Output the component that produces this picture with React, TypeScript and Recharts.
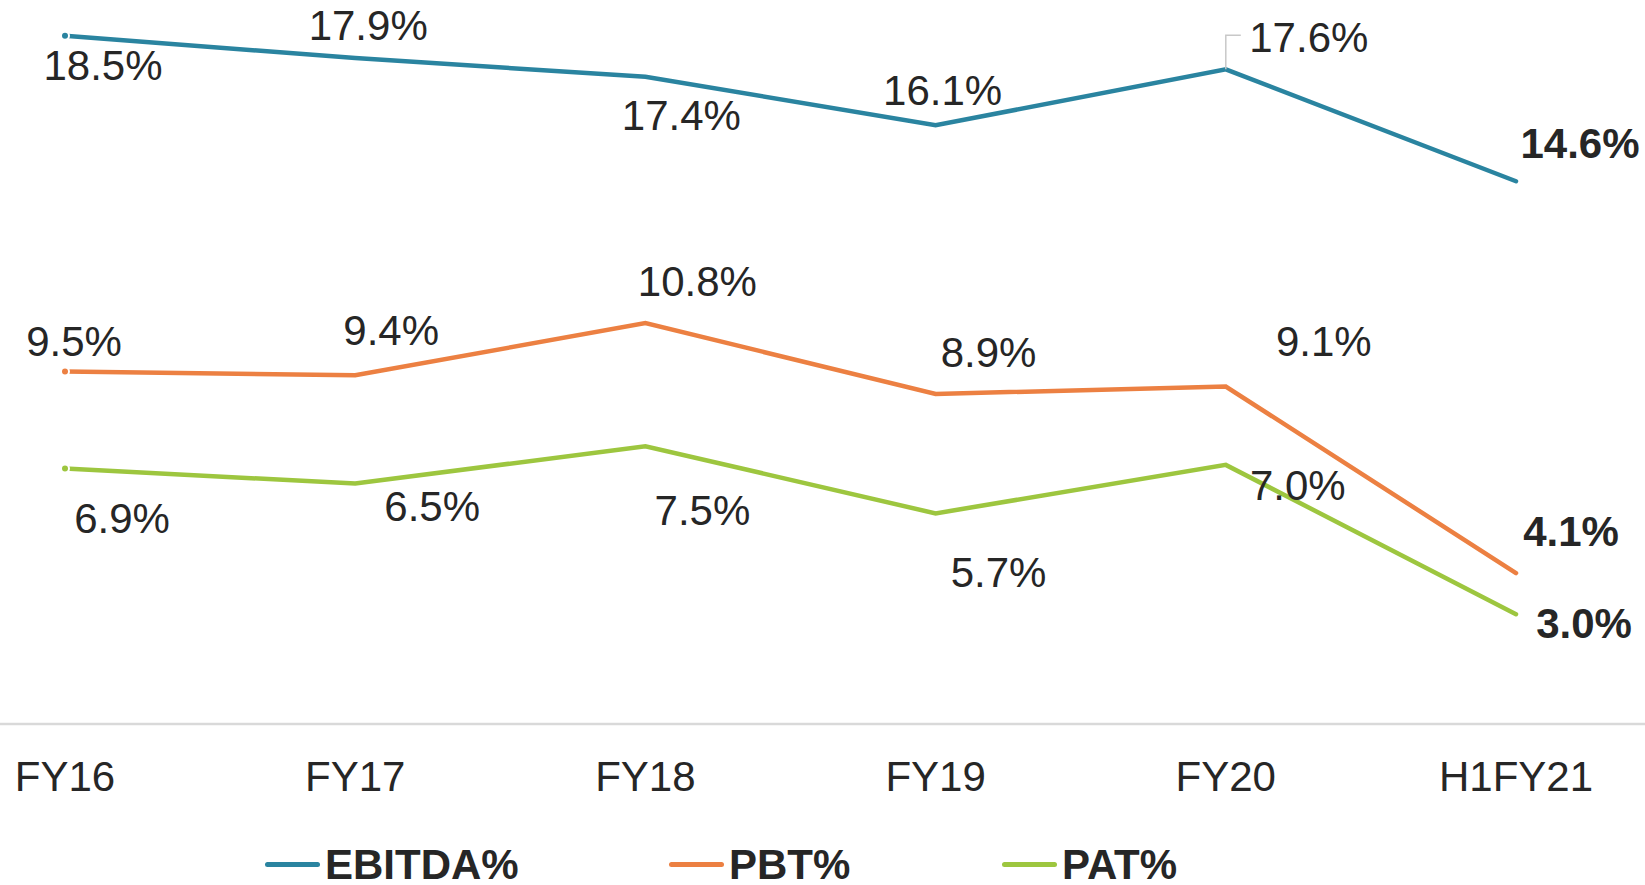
import React from 'react';
import { LineChart, Line, XAxis, YAxis, Legend, LabelList } from 'recharts';

const categories = ['FY16', 'FY17', 'FY18', 'FY19', 'FY20', 'H1FY21'];
const ebitda = [18.5, 17.9, 17.4, 16.1, 17.6, 14.6];
const pbt = [9.5, 9.4, 10.8, 8.9, 9.1, 4.1];
const pat = [6.9, 6.5, 7.5, 5.7, 7.0, 3.0];

const data = categories.map((name, i) => ({ name, EBITDA: ebitda[i], PBT: pbt[i], PAT: pat[i] }));

// label offsets from the point (centre of the text)
const ebitdaOffsets = [[38, 31], [13, -31], [36, 40], [7, -33], [83, -30], [64, -36]];
const pbtOffsets = [[9, -29], [36, -43], [52, -40], [53, -40], [98, -44], [55, -40]];
const patOffsets = [[57, 51], [77, 24], [57, 66], [63, 61], [72, 22], [68, 11]];

const FONT = '"Liberation Sans", Arial, sans-serif';
const TEXT = '#262626';
const FS = 42;

const COLORS = { EBITDA: '#2a84a0', PBT: '#ec8042', PAT: '#9dc63f' };

const makeLabel = (offsets: number[][], leaderAt?: number) => (props: any) => {
  const { x, y, value, index } = props;
  const [dx, dy] = offsets[index];
  const last = index === categories.length - 1;
  return (
    <g>
      {leaderAt === index && (
        <path d={`M${x},${y} L${x},${y + dy - 4} L${x + 15},${y + dy - 4}`} fill="none" stroke="#c8c8c8" strokeWidth={1.5} />
      )}
      <text x={x + dx} y={y + dy + 13} textAnchor="middle" fontFamily={FONT} fontSize={FS}
        fontWeight={last ? 'bold' : 'normal'} fill={TEXT}>
        {`${Number(value).toFixed(1)}%`}
      </text>
    </g>
  );
};

const CustomTick = (props: any) => {
  const { x, y, payload } = props;
  return (
    <text x={x} y={y + 67} textAnchor="middle" fontFamily={FONT} fontSize={FS} fill={TEXT}>
      {payload.value}
    </text>
  );
};

const legendItems = [
  { key: 'EBITDA', label: 'EBITDA%', width: 404 },
  { key: 'PBT', label: 'PBT%', width: 333 },
  { key: 'PAT', label: 'PAT%', width: 300 },
];

const CustomLegend = () => (
  <div style={{ display: 'flex', paddingLeft: 265, paddingTop: 30, height: 71, boxSizing: 'border-box' }}>
    {legendItems.map(it => (
      <div key={it.key} style={{ width: it.width, display: 'flex', alignItems: 'center' }}>
        <div style={{ width: 55, height: 5, borderRadius: 3, background: (COLORS as any)[it.key], marginRight: 5 }} />
        <span style={{ fontFamily: FONT, fontSize: FS, fontWeight: 'bold', color: TEXT, lineHeight: '42px' }}>{it.label}</span>
      </div>
    ))}
  </div>
);

export default function App() {
  return (
    <div style={{ position: 'absolute', left: 0, top: 0, width: 1645, height: 885, background: '#fff' }}>
      <LineChart width={1645} height={885} data={data} margin={{ top: 0, right: 0, left: 0, bottom: 0 }}>
        <XAxis dataKey="name" height={90} padding={{ left: 65, right: 129 }} tickLine={false} tickSize={0}
          tickMargin={0} axisLine={{ stroke: '#d9d9d9', strokeWidth: 2.5 }} tick={<CustomTick />} interval={0} />
        <YAxis hide domain={[0.057, 19.457]} allowDataOverflow />
        <Legend verticalAlign="bottom" height={71} content={<CustomLegend />} />
        <Line dataKey="EBITDA" stroke={COLORS.EBITDA} strokeWidth={4.5} strokeLinecap="round" dot={false} isAnimationActive={false}>
          <LabelList dataKey="EBITDA" content={makeLabel(ebitdaOffsets, 4)} />
        </Line>
        <Line dataKey="PBT" stroke={COLORS.PBT} strokeWidth={4.5} strokeLinecap="round" dot={false} isAnimationActive={false}>
          <LabelList dataKey="PBT" content={makeLabel(pbtOffsets)} />
        </Line>
        <Line dataKey="PAT" stroke={COLORS.PAT} strokeWidth={4.5} strokeLinecap="round" dot={false} isAnimationActive={false}>
          <LabelList dataKey="PAT" content={makeLabel(patOffsets)} />
        </Line>
      </LineChart>
    </div>
  );
}
